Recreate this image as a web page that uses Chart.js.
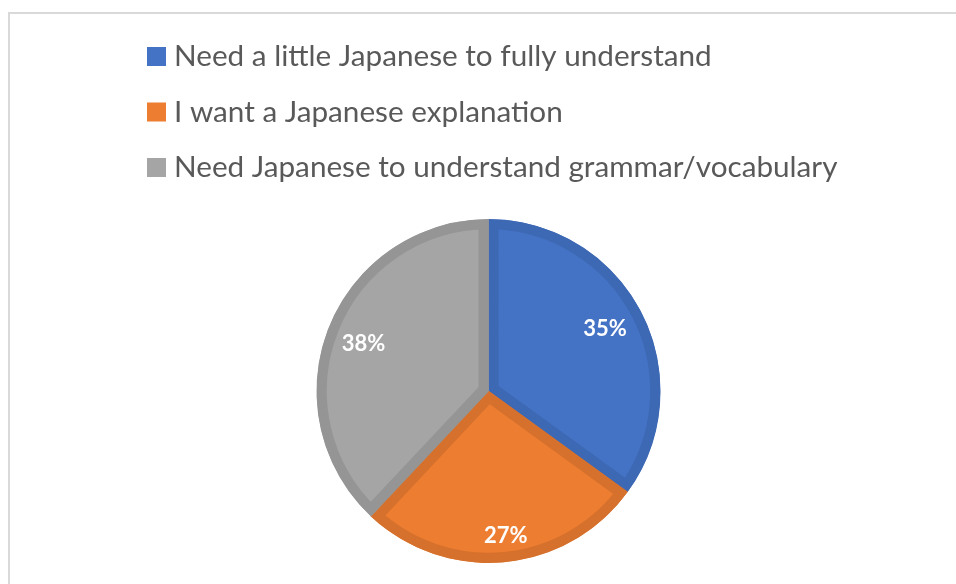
<!DOCTYPE html>
<html>
<head>
<meta charset="utf-8">
<script src="https://cdn.jsdelivr.net/npm/chart.js@4/dist/chart.umd.min.js"></script>
<style>
  html, body { margin: 0; padding: 0; background: #fff; overflow: hidden; }
  #wrap { position: relative; width: 956px; height: 584px; }
  #frame { position: absolute; left: 8px; top: 12px; width: 1200px; height: 1200px;
           border-left: 2px solid #D9D9D9; border-top: 2px solid #D9D9D9; box-sizing: border-box; }
  canvas { position: absolute; left: 0; top: 0; }
</style>
</head>
<body>
<div id="wrap">
  <div id="frame"></div>
  <canvas id="c" width="956" height="584"></canvas>
</div>
<script>
// Survey answers and their share of respondents (%)
const categories = [
  'Need a little Japanese to fully understand',
  'I want a Japanese explanation',
  'Need Japanese to understand grammar/vocabulary'
];
const shares = [35, 27, 38];
const fillColors = ['#4472C4', '#ED7D31', '#A5A5A5'];
const edgeColors = ['#3D68B3', '#D5712C', '#959595'];

// Vertical legend drawn in the top-left block
const stackedLegend = {
  id: 'stackedLegend',
  afterDraw(chart, args, opts) {
    const ctx = chart.ctx;
    const labels = chart.data.labels;
    const colors = chart.data.datasets[0].backgroundColor;
    ctx.save();
    ctx.font = `100px ${opts.family}`;
    const size = 100 * opts.firstWidth / ctx.measureText(labels[0]).width;
    ctx.font = `${size}px ${opts.family}`;
    ctx.textBaseline = 'alphabetic';
    ctx.textAlign = 'left';
    labels.forEach((text, i) => {
      const base = opts.baseline + i * opts.step;
      ctx.fillStyle = colors[i];
      ctx.fillRect(opts.boxX, base - opts.box, opts.box, opts.box);
      ctx.fillStyle = opts.color;
      ctx.fillText(text, opts.textX, base);
    });
    ctx.restore();
  }
};

// Percentage labels inside each slice
const sliceLabels = {
  id: 'sliceLabels',
  afterDatasetsDraw(chart, args, opts) {
    const ctx = chart.ctx;
    const meta = chart.getDatasetMeta(0);
    const values = chart.data.datasets[0].data;
    ctx.save();
    ctx.font = opts.font;
    ctx.fillStyle = opts.color;
    ctx.textAlign = 'center';
    ctx.textBaseline = 'middle';
    meta.data.forEach((arc, i) => {
      const p = arc.getProps(['x', 'y', 'startAngle', 'endAngle', 'outerRadius'], true);
      const mid = (p.startAngle + p.endAngle) / 2 + (opts.angleShift[i] || 0);
      const r = p.outerRadius * opts.radial[i];
      ctx.fillText(values[i] + '%', p.x + Math.cos(mid) * r, p.y + Math.sin(mid) * r);
    });
    ctx.restore();
  }
};

new Chart(document.getElementById('c'), {
  type: 'pie',
  data: {
    labels: categories,
    datasets: [{
      data: shares,
      backgroundColor: fillColors,
      borderColor: edgeColors,
      borderWidth: 10,
      borderAlign: 'inner'
    }]
  },
  options: {
    responsive: false,
    animation: false,
    events: [],
    radius: 172,
    layout: { padding: { top: 219, bottom: 21, left: 21, right: 0 } },
    plugins: {
      legend: { display: false },
      tooltip: { enabled: false },
      stackedLegend: {
        family: 'Lato, sans-serif',
        firstWidth: 538,
        baseline: 66,
        step: 55.5,
        box: 19,
        boxX: 147,
        textX: 174,
        color: '#595959'
      },
      sliceLabels: {
        font: 'bold 22px Lato, sans-serif',
        color: '#FFFFFF',
        radial: [0.767, 0.846, 0.776],
        angleShift: [-0.017, -0.024, -0.017]
      }
    }
  },
  plugins: [stackedLegend, sliceLabels]
});
</script>
</body>
</html>
